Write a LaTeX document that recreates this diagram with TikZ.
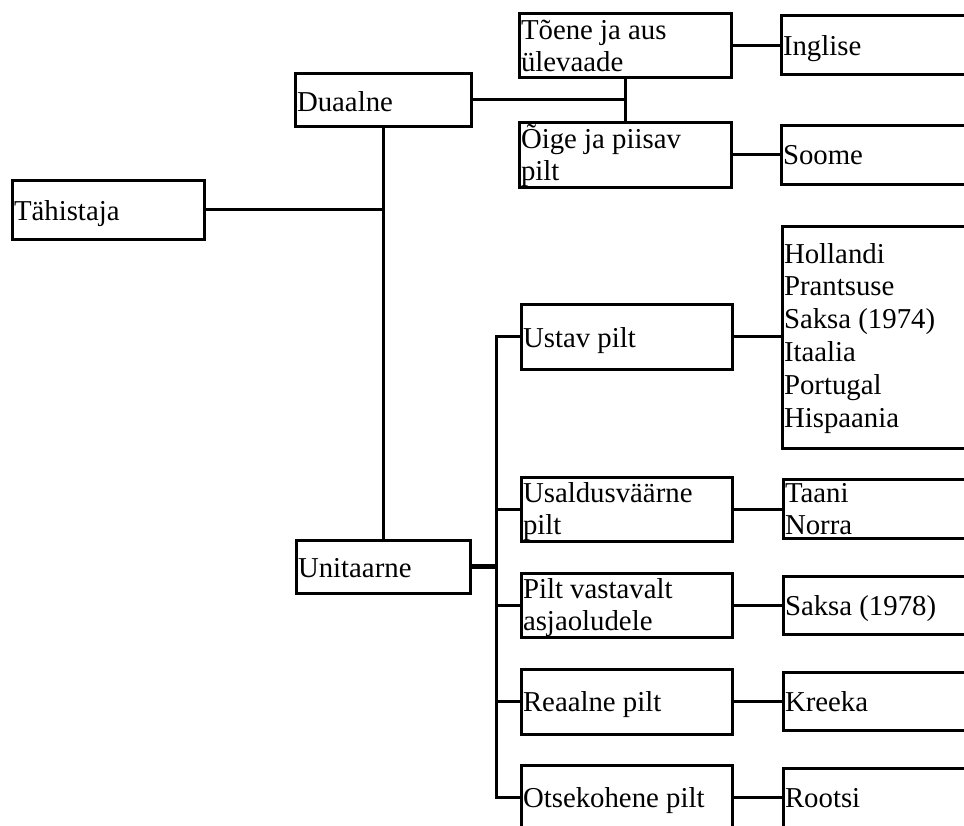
\documentclass[tikz,border=0pt]{standalone}
\usepackage{fontspec}
\setmainfont{Liberation Serif}
\newcommand\twolines[2]{\begin{tabular}[t]{@{}l@{}}#1\\#2\end{tabular}}
\begin{document}
\begin{tikzpicture}[x=1pt,y=-1pt,
  box/.style={draw, rectangle, line width=3pt, inner sep=0pt, outer sep=0pt, anchor=north west},
  txt/.style={anchor=base west, inner sep=0pt, outer sep=0pt, font=\fontsize{28.8}{32.8}\selectfont},
  conn/.style={line width=3pt},
  thickconn/.style={line width=4.6pt}]
\path[use as bounding box, fill=white] (0,0) rectangle (964,825);
\clip (0,0) rectangle (964,825);

% boxes
\node[box, minimum width=192pt, minimum height=59pt] (tah) at (12,180) {};
\node[box, minimum width=176pt, minimum height=53pt] (dua) at (295,73) {};
\node[box, minimum width=174pt, minimum height=53pt] (uni) at (296,540) {};
\node[box, minimum width=212pt, minimum height=64pt] (toe) at (519,13) {};
\node[box, minimum width=212pt, minimum height=65pt] (oig) at (519,122) {};
\node[box, minimum width=211pt, minimum height=65pt] (ust) at (521,304) {};
\node[box, minimum width=211pt, minimum height=64pt] (usa) at (521,477) {};
\node[box, minimum width=211pt, minimum height=64pt] (pvs) at (521,573) {};
\node[box, minimum width=211pt, minimum height=65pt] (rea) at (521,669) {};
\node[box, minimum width=211pt, minimum height=65pt] (ots) at (521,765) {};
\node[box, minimum width=219pt, minimum height=59pt] (ing) at (781,15) {};
\node[box, minimum width=219pt, minimum height=59pt] (soo) at (781,125) {};
\node[box, minimum width=218pt, minimum height=222pt] (hol) at (782,226) {};
\node[box, minimum width=217pt, minimum height=59pt] (taa) at (783,479) {};
\node[box, minimum width=217pt, minimum height=58pt] (sak) at (783,576) {};
\node[box, minimum width=217pt, minimum height=58pt] (kre) at (783,672) {};
\node[box, minimum width=217pt, minimum height=59pt] (roo) at (783,768) {};

% texts
\node[txt] (tahT) at (14,220) {Tähistaja};
\node[txt] (duaT) at (297,111) {Duaalne};
\node[txt] (uniT) at (298,577) {Unitaarne};
\node[txt] (toeT) at (521,39) {\twolines{Tõene ja aus}{ülevaade}};
\node[txt] (oigT) at (521,148) {\twolines{Õige ja piisav}{pilt}};
\node[txt] (ustT) at (523,347) {Ustav pilt};
\node[txt] (usaT) at (523,502) {\twolines{Usaldusväärne}{pilt}};
\node[txt] (pvsT) at (523,598) {\twolines{Pilt vastavalt}{asjaoludele}};
\node[txt] (reaT) at (523,711) {Reaalne pilt};
\node[txt] (otsT) at (523,807) {Otsekohene pilt};
\node[txt] (ingT) at (783,55) {Inglise};
\node[txt] (sooT) at (783,164) {Soome};
\node[txt] (holT) at (784,263) {\begin{tabular}[t]{@{}l@{}}Hollandi\\Prantsuse\\Saksa (1974)\\Itaalia\\Portugal\\Hispaania\end{tabular}};
\node[txt] (taaT) at (785,502) {\twolines{Taani}{Norra}};
\node[txt] (sakT) at (785,615) {Saksa (1978)};
\node[txt] (kreT) at (785,711) {Kreeka};
\node[txt] (rooT) at (785,807) {Rootsi};

% connectors
\draw[conn] (tah.east) -- (tah.east -| dua.south);
\draw[conn] (dua.south) -- (uni.north);
\draw[conn] (dua.east) -- (dua.east -| toe.south);
\draw[conn] (toe.south) -- (oig.north);
\draw[conn] (toe.east) -- (toe.east -| ing.west);
\draw[conn] (oig.east) -- (oig.east -| soo.west);

\coordinate (bx) at (496,0);
\draw[thickconn] (uni.east) -- (uni.east -| bx);
\draw[conn] (ust.west) -- (ust.west -| bx) -- (ots.west -| bx) -- (ots.west);
\draw[conn] (usa.west -| bx) -- (usa.west);
\draw[conn] (pvs.west -| bx) -- (pvs.west);
\draw[conn] (rea.west -| bx) -- (rea.west);

\draw[conn] (ust.east) -- (ust.east -| hol.west);
\draw[conn] (usa.east) -- (usa.east -| taa.west);
\draw[conn] (pvs.east) -- (pvs.east -| sak.west);
\draw[conn] (rea.east) -- (rea.east -| kre.west);
\draw[conn] (ots.east) -- (ots.east -| roo.west);
\end{tikzpicture}
\end{document}
